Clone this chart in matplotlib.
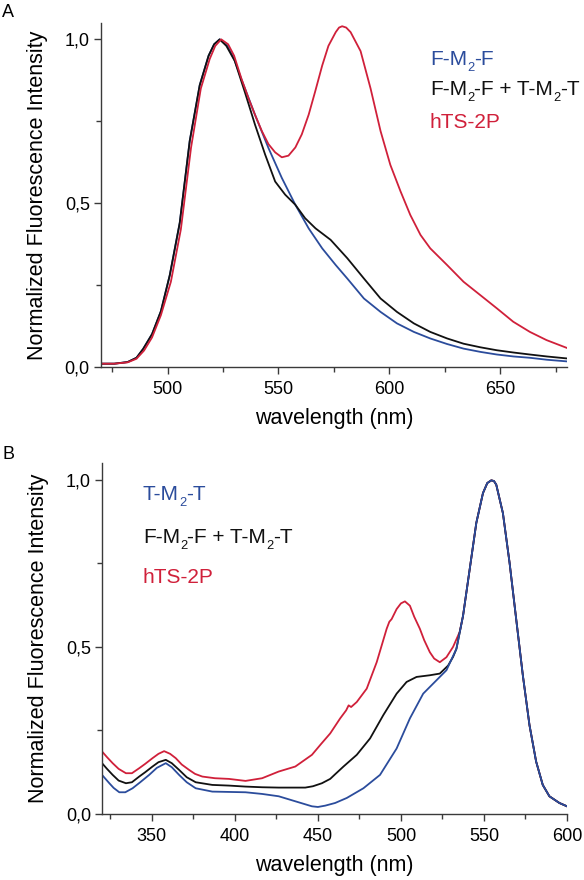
import matplotlib
matplotlib.use("Agg")
import matplotlib.pyplot as plt
from matplotlib.ticker import MultipleLocator, FuncFormatter

plt.rcParams["font.family"] = ["Liberation Sans", "DejaVu Sans"]

# panel A - emission, excitation of F
a_red_wl = [470, 476, 482, 486, 489.4, 493, 497, 501.5, 506, 510.6, 515, 519, 521.5, 524.2,
            527.3, 530, 533.3, 536.5, 539.4, 542.5, 545.5, 548.5, 551.5, 554.5, 557.6, 560.5,
            563.6, 566.5, 569.7, 572.5, 575.8, 577.3, 578.7, 580.5, 582.5, 587, 591.5, 596, 600.4,
            605, 609.4, 614, 618.4, 626, 633.4, 641, 648.4, 655.8, 663.3, 670.8, 680]
a_red = [0.010, 0.010, 0.014, 0.025, 0.05, 0.09, 0.158, 0.26, 0.42, 0.67, 0.85, 0.94, 0.98, 1.0,
         0.985, 0.95, 0.88, 0.82, 0.77, 0.72, 0.68, 0.655, 0.64, 0.645, 0.67, 0.71,
         0.77, 0.84, 0.92, 0.98, 1.022, 1.036, 1.04, 1.036, 1.022, 0.964, 0.85, 0.72, 0.617,
         0.536, 0.464, 0.403, 0.362, 0.311, 0.26, 0.219, 0.179, 0.138, 0.107, 0.082, 0.058]

a_blk_wl = [470, 476, 482, 486, 489, 493, 497, 501, 505.5, 510, 514.5, 518.5, 521, 523.5, 526.5,
            530.3, 534.8, 539.4, 544, 548.5, 553, 557.6, 562, 566.7, 573.5, 581, 588.5, 596,
            603.4, 611, 618.4, 626, 633.4, 641, 648.4, 656, 663.3, 671, 680]
a_blk = [0.010, 0.010, 0.015, 0.028, 0.055, 0.10, 0.17, 0.28, 0.44, 0.69, 0.86, 0.95, 0.985, 1.0, 0.98,
         0.934, 0.84, 0.74, 0.648, 0.566, 0.526, 0.495, 0.454, 0.423, 0.388, 0.332, 0.27, 0.209,
         0.168, 0.133, 0.107, 0.087, 0.071, 0.060, 0.051, 0.044, 0.038, 0.032, 0.026]

a_blu_wl = [470, 476, 482, 486, 489, 493, 497, 501, 505.5, 510, 514.5, 518.5, 521, 523.5, 527, 530,
            533.3, 539.4, 545.5, 551.5, 557.6, 563.6, 569.7, 575.8, 581, 588.5, 596, 603.4, 611,
            618.4, 626, 633.4, 641, 648.4, 656, 663.3, 671, 680]
a_blu = [0.010, 0.010, 0.015, 0.028, 0.055, 0.10, 0.17, 0.28, 0.44, 0.69, 0.86, 0.95, 0.985, 1.0, 0.98, 0.94,
         0.878, 0.77, 0.668, 0.577, 0.495, 0.423, 0.362, 0.311, 0.27, 0.209, 0.168, 0.133, 0.107,
         0.087, 0.07, 0.056, 0.046, 0.038, 0.032, 0.028, 0.022, 0.017]

# panel B - emission, excitation of T
b_blu_wl = [320, 324.4, 327, 330.4, 334, 338.4, 343, 348.4, 353, 358.4, 362, 366.4, 371, 376.4,
            386.4, 396.4, 406.4, 416.4, 426.4, 436.4, 446.4, 450, 454.4, 460.4, 467.4, 477.4,
            487.4, 497.4, 505.4, 513.4, 521.4, 527.4, 533.4, 537.4, 541.4, 545.4, 549.4, 552,
            554.4, 556, 557.4, 561.4, 565.4, 569.4, 573.4, 577.4, 581.4, 585.4, 589.4, 595.4, 600]
b_blu = [0.117, 0.092, 0.078, 0.065, 0.065, 0.077, 0.095, 0.117, 0.138, 0.152, 0.14, 0.117, 0.095, 0.077,
         0.067, 0.066, 0.065, 0.06, 0.053, 0.038, 0.023, 0.021, 0.025, 0.033, 0.048, 0.077,
         0.117, 0.196, 0.286, 0.36, 0.40, 0.43, 0.494, 0.593, 0.732, 0.871, 0.96, 0.99,
         0.998, 0.996, 0.985, 0.90, 0.752, 0.583, 0.415, 0.266, 0.157, 0.087, 0.053, 0.033, 0.023]

b_blk_wl = [320, 323, 326.4, 330, 334.4, 338, 342.4, 346, 350.4, 354, 358.4, 362, 366.4, 371, 376.4,
            386.4, 396.4, 406.4, 416.4, 426.4, 436.4, 442.4, 447, 452.4, 457.4, 460.4, 465.4, 473.4,
            481.4, 489.4, 497.4, 503.4, 509.4, 517.4, 523.4, 528.4, 531.4, 533.4, 537.4, 541.4,
            545.4, 549.4, 552, 554.4, 556, 557.4, 561.4, 565.4, 569.4, 573.4, 577.4, 581.4, 585.4,
            589.4, 595.4, 600]
b_blk = [0.152, 0.135, 0.117, 0.10, 0.092, 0.095, 0.112, 0.125, 0.142, 0.155, 0.162, 0.152, 0.132, 0.11, 0.095,
         0.087, 0.085, 0.082, 0.08, 0.079, 0.079, 0.079, 0.083, 0.092, 0.105, 0.119, 0.142, 0.177,
         0.226, 0.296, 0.36, 0.395, 0.41, 0.415, 0.42, 0.444, 0.47, 0.494, 0.593, 0.732,
         0.871, 0.96, 0.99, 0.998, 0.996, 0.985, 0.90, 0.752, 0.583, 0.415, 0.266, 0.157, 0.087,
         0.053, 0.033, 0.023]

b_red_wl = [320, 323, 326.4, 330, 334.4, 338, 342.4, 346, 350.4, 354, 357.4, 361, 364.4, 368, 372.4,
            376, 380.4, 388, 396.4, 406.4, 416.4, 426.4, 436.4, 446.4, 452, 457.4, 463.4, 467,
            468.5, 470, 473.4, 479.4, 485.4, 491.4, 493, 494.4, 497.4, 500, 502.4, 505.4, 508,
            511.4, 514, 517.4, 520, 523.4, 527.4, 531.4, 535.4, 537.4, 541.4, 545.4, 549.4, 552,
            554.4, 556, 557.4, 561.4, 565.4, 569.4, 573.4, 577.4, 581.4, 585.4, 589.4, 595.4, 600]
b_red = [0.187, 0.17, 0.152, 0.135, 0.122, 0.122, 0.137, 0.15, 0.167, 0.18, 0.188, 0.18, 0.167, 0.148, 0.132,
         0.12, 0.112, 0.107, 0.105, 0.099, 0.107, 0.127, 0.142, 0.177, 0.21, 0.241, 0.286, 0.31,
         0.325, 0.32, 0.335, 0.375, 0.454, 0.554, 0.575, 0.583, 0.613, 0.63, 0.636, 0.623, 0.59,
         0.554, 0.52, 0.484, 0.465, 0.454, 0.469, 0.50, 0.545, 0.593, 0.732, 0.871, 0.96, 0.99,
         0.998, 0.996, 0.985, 0.90, 0.752, 0.583, 0.415, 0.266, 0.157, 0.087, 0.053, 0.033, 0.023]

# legend entries, (text, is_subscript)
FMF = [("F-M", False), ("2", True), ("-F", False)]
TMT = [("T-M", False), ("2", True), ("-T", False)]
MIX = [("F-M", False), ("2", True), ("-F + T-M", False), ("2", True), ("-T", False)]
HTS = [("hTS-2P", False)]

BLUE = "#2b4c9c"
BLACK = "#111111"
RED = "#d0203a"
AX = "#3a3a3a"
FS = 15

fig = plt.figure(figsize=(5.84, 8.8), dpi=100)
axA = fig.add_axes([0.1729, 0.5830, 0.7979, 0.3909])
axB = fig.add_axes([0.1747, 0.0750, 0.7962, 0.3989])

comma = FuncFormatter(lambda v, p: ("%.1f" % v).replace(".", ","))


def style(ax):
    for s in ["top", "right"]:
        ax.spines[s].set_visible(False)
    for s in ["left", "bottom"]:
        ax.spines[s].set_color(AX)
        ax.spines[s].set_linewidth(1.0)
    ax.tick_params(which="major", direction="out", length=5, width=1.0, color=AX,
                   labelsize=13, pad=3)
    ax.tick_params(which="minor", direction="out", length=3.5, width=1.0, color=AX)
    ax.tick_params(axis="x", which="major", pad=5)
    ax.yaxis.set_major_locator(MultipleLocator(0.5))
    ax.yaxis.set_minor_locator(MultipleLocator(0.25))
    ax.yaxis.set_major_formatter(comma)
    ax.set_ylim(0, 1.05)
    ax.set_xlabel("wavelength (nm)", fontsize=15.5, labelpad=7)
    ax.set_ylabel("Normalized Fluorescence Intensity", fontsize=15.5, labelpad=12)


def rich(ax, x, y, parts, color):
    t = ax.text(x, y, parts[0][0], transform=ax.transAxes, color=color, fontsize=FS, va="bottom")
    prev_sub = parts[0][1]
    for s, sub in parts[1:]:
        if sub:
            off, size = -3.5, FS * 0.62
        else:
            off, size = (3.5 if prev_sub else 0), FS
        t = ax.annotate(s, xy=(1, 0), xycoords=t, xytext=(0, off), textcoords="offset points",
                        color=color, fontsize=size, va="bottom")
        prev_sub = sub


lw = 1.3
axA.plot(a_blu_wl, a_blu, color=BLUE, lw=lw)
axA.plot(a_blk_wl, a_blk, color=BLACK, lw=lw)
axA.plot(a_red_wl, a_red, color=RED, lw=lw)
axA.set_xlim(470, 680)
axA.xaxis.set_major_locator(MultipleLocator(50))
axA.xaxis.set_minor_locator(MultipleLocator(25))
style(axA)

axB.plot(b_red_wl, b_red, color=RED, lw=lw)
axB.plot(b_blk_wl, b_blk, color=BLACK, lw=lw)
axB.plot(b_blu_wl, b_blu, color=BLUE, lw=lw)
axB.set_xlim(320, 600)
axB.xaxis.set_major_locator(MultipleLocator(50))
axB.xaxis.set_minor_locator(MultipleLocator(25))
style(axB)

for parts, col, y in zip([FMF, MIX, HTS], [BLUE, BLACK, RED], [0.866, 0.779, 0.683]):
    rich(axA, 0.706, y, parts, col)
for parts, col, y in zip([TMT, MIX, HTS], [BLUE, BLACK, RED], [0.883, 0.760, 0.646]):
    rich(axB, 0.088, y, parts, col)

fig.text(0.004, 0.981, "A", fontsize=13, va="baseline")
fig.text(0.004, 0.478, "B", fontsize=13, va="baseline")

fig.savefig("out.png", dpi=100, facecolor="white")
